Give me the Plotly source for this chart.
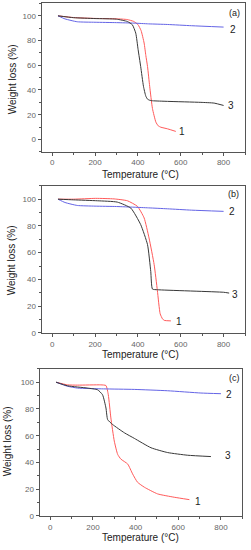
import plotly.graph_objects as go

# ---------------- data ----------------
# panel (a)
T1a = [27, 100, 200, 300, 350, 380, 400, 415, 429, 437, 445, 455, 468, 484, 495, 507, 538, 577]
W1a = [100, 98.6, 97.9, 97.6, 97, 95.5, 93, 88, 78, 68, 59, 43, 25, 14, 11, 9.9, 8.6, 6.5]
T2a = [27, 60, 117, 200, 300, 382, 450, 538, 650, 800]
W2a = [100, 97.5, 95.2, 94.8, 94.5, 94.1, 93.5, 93, 92, 90.9]
T3a = [27, 100, 200, 300, 351, 374, 390, 401, 413, 426, 437, 445, 455, 468, 538, 694, 756, 800]
W3a = [100, 98.5, 97.8, 97.3, 95.4, 92.8, 86, 72.7, 59, 43, 35, 32.6, 31.7, 31.3, 30.8, 30, 29.4, 27.5]

# panel (b)
T1b = [27, 100, 203, 289, 351, 398, 429, 452, 476, 491, 504, 515, 523, 554]
W1b = [100, 100, 100.6, 100.2, 98.8, 94.6, 86, 71, 51, 31.6, 14.3, 10.5, 9.4, 9.0]
T2b = [27, 60, 117, 200, 300, 382, 450, 538, 650, 800]
W2b = [100, 97.5, 95.3, 94.8, 94.5, 94, 93.5, 92.8, 91.8, 90.9]
T3b = [27, 100, 211, 304, 367, 413, 445, 460, 468, 491, 800, 826]
W3b = [100, 99.5, 98.8, 97.8, 93.3, 81, 66, 46, 32.8, 32.3, 30.4, 29.8]

# panel (c)
T1c = [27, 81, 128, 237, 261, 272, 284, 300, 316, 331, 363, 386, 409, 441, 503, 581, 652]
W1c = [100, 98, 97.8, 98, 97.5, 90.6, 73.3, 56, 46, 42.5, 38.8, 31.4, 25.2, 21.5, 16.5, 14, 12.2]
T2c = [27, 80, 128, 250, 394, 550, 706, 800]
W2c = [100, 97, 95.6, 95, 94.6, 93.6, 91.9, 91.4]
T3c = [27, 81, 175, 222, 245, 261, 269, 292, 347, 394, 472, 550, 644, 753]
W3c = [100, 97.3, 95.6, 94.3, 90.6, 80.7, 72, 68.4, 62.2, 58, 51, 47.4, 45.4, 44.4]

panel_tags = ["(a)", "(b)", "(c)"]
curve_names = ["1", "2", "3"]
# label positions (data coords) for each panel: tag, 1, 2, 3
label_pos = [
    [(850, 102.5), (608, 6.7), (845, 89.3), (835, 27.8)],
    [(847, 104), (590, 8.9), (837, 90.9), (854, 29)],
    [(863, 103.5), (694, 11), (836, 90.6), (831, 45.4)],
]

x_ticks = [0, 200, 400, 600, 800]
y_ticks = [0, 20, 40, 60, 80, 100]

RED = "#ff5a5a"
BLUE = "#6464e6"
BLACK = "#383838"

W, H = 251, 550
# pixel boxes (left, right, top, bottom)
boxes = [
    (41.5, 245.0, 3.5, 153.2),
    (41.5, 245.0, 187.5, 336.0),
    (39.6, 242.3, 372.2, 520.7),
]
yranges = [[-10, 110], [0, 110], [0, 110]]

series = [
    [(T1a, W1a, RED), (T2a, W2a, BLUE), (T3a, W3a, BLACK)],
    [(T1b, W1b, RED), (T2b, W2b, BLUE), (T3b, W3b, BLACK)],
    [(T1c, W1c, RED), (T2c, W2c, BLUE), (T3c, W3c, BLACK)],
]

fig = go.Figure()
FONT = "Liberation Sans, Arial, sans-serif"
annotations = []

for i in range(3):
    xa = "x" if i == 0 else f"x{i+1}"
    ya = "y" if i == 0 else f"y{i+1}"
    for (t, w, c) in series[i]:
        fig.add_trace(go.Scatter(x=t, y=w, mode="lines", xaxis=xa, yaxis=ya,
                                 line=dict(color=c, width=1, shape="spline", smoothing=0.5),
                                 showlegend=False, hoverinfo="skip"))
    l, r, t_, b = boxes[i]
    axx = dict(domain=[l / W, r / W], range=[-50, 900], anchor=ya,
               showline=True, mirror=True, linecolor="#555555", linewidth=1,
               showgrid=False, zeroline=False, tickvals=x_ticks,
               ticks="outside", ticklen=3, tickcolor="#555555", ticklabelstandoff=0,
               tickfont=dict(size=8, color="#666666", family=FONT),
               minor=dict(ticks="outside", ticklen=2, tickcolor="#555555", dtick=100, tick0=0))
    axy = dict(domain=[1 - b / H, 1 - t_ / H], range=yranges[i], anchor=xa,
               showline=True, mirror=True, linecolor="#555555", linewidth=1,
               showgrid=False, zeroline=False, tickvals=y_ticks,
               ticks="outside", ticklen=3, tickcolor="#555555",
               tickfont=dict(size=8, color="#666666", family=FONT),
               minor=dict(ticks="outside", ticklen=2, tickcolor="#555555", dtick=10, tick0=0))
    key = "" if i == 0 else str(i + 1)
    fig.update_layout(**{f"xaxis{key}": axx, f"yaxis{key}": axy})

    pos = label_pos[i]
    annotations.append(dict(x=pos[0][0], y=pos[0][1], xref=xa, yref=ya, text=panel_tags[i],
                            xanchor="center", yanchor="middle",
                            showarrow=False, font=dict(size=9, color="#222222", family=FONT)))
    for k in range(3):
        annotations.append(dict(x=pos[k + 1][0], y=pos[k + 1][1], xref=xa, yref=ya,
                                text=curve_names[k], showarrow=False,
                                xanchor="center", yanchor="middle",
                                font=dict(size=10, color="#222222", family=FONT)))

# axis titles
xt_pos = [(140, 176.0), (140, 357.5), (140, 542.0)]
yt_pos = [(12, 80), (11.7, 263), (8.3, 445)]
for i in range(3):
    annotations.append(dict(x=xt_pos[i][0] / W, y=1 - xt_pos[i][1] / H, xref="paper", yref="paper",
                            text="Temperature (°C)", showarrow=False,
                            xanchor="center", yanchor="middle",
                            font=dict(size=10, color="#222222", family=FONT)))
    annotations.append(dict(x=yt_pos[i][0] / W, y=1 - yt_pos[i][1] / H, xref="paper", yref="paper",
                            text="Weight loss (%)", showarrow=False, textangle=-90,
                            xanchor="center", yanchor="middle",
                            font=dict(size=10, color="#222222", family=FONT)))

fig.update_layout(width=W, height=H, margin=dict(l=0, r=0, t=0, b=0),
                  paper_bgcolor="white", plot_bgcolor="white",
                  annotations=annotations, font=dict(family=FONT))
fig.write_html("out.html", config={"displayModeBar": False, "staticPlot": True},
               post_script="document.body.style.margin='0px';document.body.style.overflow='hidden';"
                           "document.documentElement.style.overflow='hidden';")
